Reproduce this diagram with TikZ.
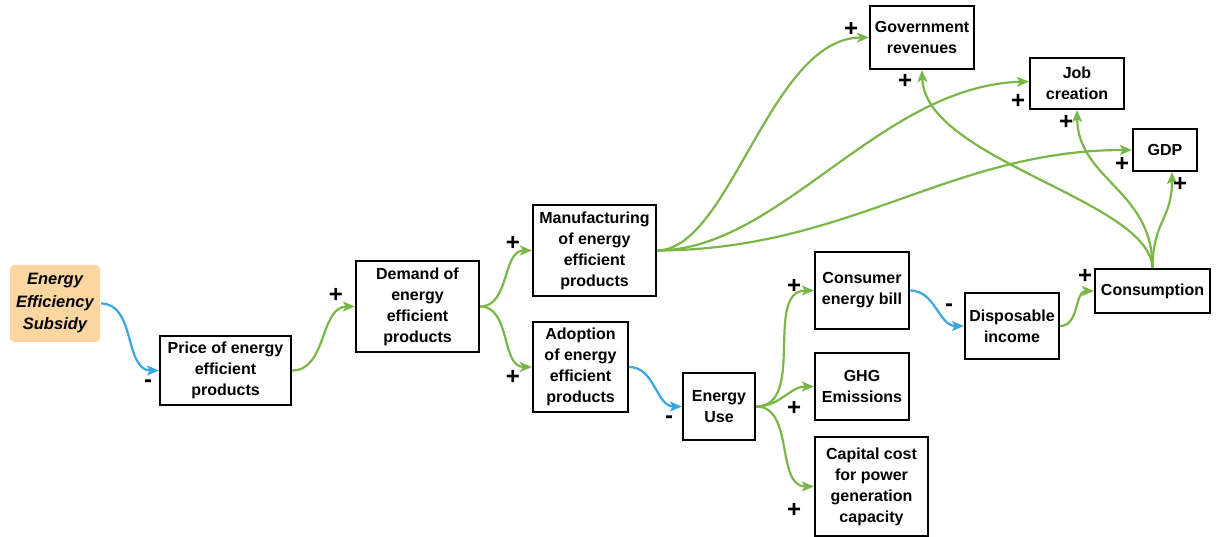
\documentclass[tikz,border=0pt]{standalone}
\usepackage{fontspec}
\setmainfont{Liberation Sans}
\usetikzlibrary{arrows.meta,calc}
\definecolor{lgreen}{RGB}{122,182,72}
\definecolor{lblue}{RGB}{58,166,222}
\definecolor{sorange}{RGB}{252,214,160}
\tikzset{
  box/.style={draw=black,line width=2.2pt,fill=white,inner sep=0pt,align=center,font=\fontsize{16}{21}\selectfont\bfseries},
  posarr/.style={draw=lgreen,line width=2.2pt,-{Stealth[length=12pt,width=10pt,inset=3pt]}},
  negarr/.style={draw=lblue,line width=2.2pt,-{Stealth[length=12pt,width=10pt,inset=3pt]}},
  sgn/.style={inner sep=0pt,font=\fontsize{24}{24}\selectfont\bfseries},
}
\begin{document}
\begin{tikzpicture}[x=1pt,y=-1pt]
\useasboundingbox (0,0) rectangle (1218,537);
% nodes
\node[box,draw=none,fill=sorange,rounded corners=4pt,minimum width=90pt,minimum height=77pt,font=\fontsize{16.5}{22.5}\selectfont\bfseries\itshape] (sub) at (55,303.5) {Energy\\Efficiency\\Subsidy};
\node[box,minimum width=131pt,minimum height=69pt] (price) at (225.5,370.5) {Price of energy\\efficient\\products};
\node[box,minimum width=123pt,minimum height=91pt] (demand) at (417.5,306.5) {Demand of\\energy\\efficient\\products};
\node[box,minimum width=123pt,minimum height=91pt] (manuf) at (594.5,250.5) {Manufacturing\\of energy\\efficient\\products};
\node[box,minimum width=95pt,minimum height=90pt] (adopt) at (580.5,367) {Adoption\\of energy\\efficient\\products};
\node[box,minimum width=72pt,minimum height=67pt] (euse) at (719,406.5) {Energy\\Use};
\node[box,minimum width=94pt,minimum height=77pt] (bill) at (862,290.5) {Consumer\\energy bill};
\node[box,minimum width=94pt,minimum height=67pt] (ghg) at (862,386.5) {GHG\\Emissions};
\node[box,minimum width=113pt,minimum height=99pt] (cap) at (871.5,486.5) {Capital cost\\for power\\generation\\capacity};
\node[box,minimum width=94pt,minimum height=66pt] (disp) at (1012,326) {Disposable\\income};
\node[box,minimum width=115pt,minimum height=44pt] (cons) at (1152.5,291) {Consumption};
\node[box,minimum width=104pt,minimum height=63pt] (gov) at (922,37.5) {Government\\revenues};
\node[box,minimum width=94pt,minimum height=51pt] (job) at (1077,83.5) {Job\\creation};
\node[box,minimum width=64pt,minimum height=42pt] (gdp) at (1165,150) {GDP};
% connectors
\draw[negarr] (sub.east) to[out=0,in=180] (price.west);
\draw[posarr] (price.east) to[out=0,in=180] (demand.west);
\draw[posarr] (demand.east) to[out=0,in=180] (manuf.west);
\draw[posarr] (demand.east) to[out=0,in=180] (adopt.west);
\draw[negarr] (adopt.east) to[out=0,in=180] (euse.west);
\draw[posarr] (euse.east) to[out=0,in=180] (bill.west);
\draw[posarr] (euse.east) to[out=0,in=180] (ghg.west);
\draw[posarr] (euse.east) to[out=0,in=180] (cap.west);
\draw[negarr] (bill.east) to[out=0,in=180] (disp.west);
\draw[posarr] (disp.east) to[out=0,in=180] (cons.west);
\draw[posarr] (manuf.east) .. controls (730,250) and (770,38) .. (gov.west);
\draw[posarr] (manuf.east) .. controls (780,250) and (880,86) .. ([yshift=2pt]job.west);
\draw[posarr] (manuf.east) .. controls (850,250) and (950,150) .. (gdp.west);
\draw[posarr] (cons.north) .. controls (1150,200) and (925,160) .. (gov.south);
\draw[posarr] (cons.north) .. controls (1153,190) and (1078,180) .. (job.south);
\draw[posarr] (cons.north) .. controls (1153,220) and (1172,220) .. ([xshift=7pt]gdp.south);
% signs
\node[sgn] (s1) at (148,384) {-};
\node[sgn] (s2) at (336,295) {+};
\node[sgn] (s3) at (513,243) {+};
\node[sgn] (s4) at (513,377) {+};
\node[sgn] (s5) at (669,420) {-};
\node[sgn] (s6) at (794,286) {+};
\node[sgn] (s7) at (794,408) {+};
\node[sgn] (s8) at (794,510) {+};
\node[sgn] (s9) at (949,308) {-};
\node[sgn] (s10) at (1085,276) {+};
\node[sgn] (s11) at (851,29) {+};
\node[sgn] (s12) at (905,81) {+};
\node[sgn] (s13) at (1018,101) {+};
\node[sgn] (s14) at (1066,122) {+};
\node[sgn] (s15) at (1122,164) {+};
\node[sgn] (s16) at (1180,184) {+};
\end{tikzpicture}
\end{document}
